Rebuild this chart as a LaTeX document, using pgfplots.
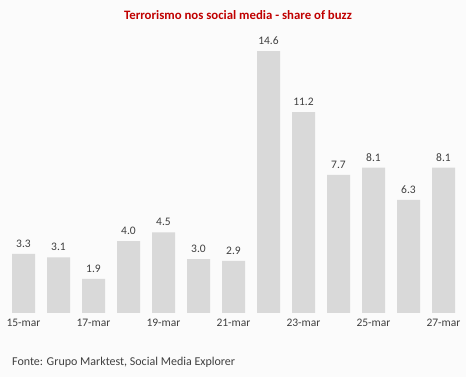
\documentclass[border=0pt]{standalone}
\usepackage{pgfplots}
\pgfplotsset{compat=1.18}
\usepackage{fontspec}
\setmainfont{Carlito}
\definecolor{bgc}{HTML}{FBFBFB}
\definecolor{barc}{HTML}{D9D9D9}
\definecolor{txt}{HTML}{404040}
\definecolor{ttl}{HTML}{C00000}
\begin{document}
\begin{tikzpicture}
\fill[bgc] (0,0) rectangle (466pt,377pt);
\begin{axis}[
  at={(6pt,64pt)}, anchor=south west,
  scale only axis, width=455pt, height=287pt,
  xmin=-0.5, xmax=12.5, ymin=0, ymax=16,
  axis line style={draw=none},
  ytick=\empty,
  xtick={0,2,4,6,8,10,12},
  xticklabels={15-mar,17-mar,19-mar,21-mar,23-mar,25-mar,27-mar},
  major tick length=0pt,
  xticklabel style={font=\fontsize{11.5}{13}\selectfont, text=txt, yshift=-3pt},
  /pgf/number format/assume math mode=true,
  ybar, bar width=23pt,
  nodes near coords,
  nodes near coords style={font=\fontsize{11.5}{13}\selectfont, text=txt, /pgf/number format/fixed, /pgf/number format/fixed zerofill, /pgf/number format/precision=1, yshift=3pt},
]
\addplot[fill=barc, draw=none] coordinates {
(0,3.3) (1,3.1) (2,1.9) (3,4.0) (4,4.5) (5,3.0) (6,2.9) (7,14.6) (8,11.2) (9,7.7) (10,8.1) (11,6.3) (12,8.1)};
\end{axis}
\node[text=ttl, font=\bfseries\fontsize{12.8}{14}\selectfont] at (238pt,362pt) {Terrorismo nos social media - share of buzz};
\node[text=txt, font=\fontsize{12}{14}\selectfont, anchor=west, inner sep=0pt] at (12pt,15pt) {Fonte: Grupo Marktest, Social Media Explorer};
\end{tikzpicture}
\end{document}
